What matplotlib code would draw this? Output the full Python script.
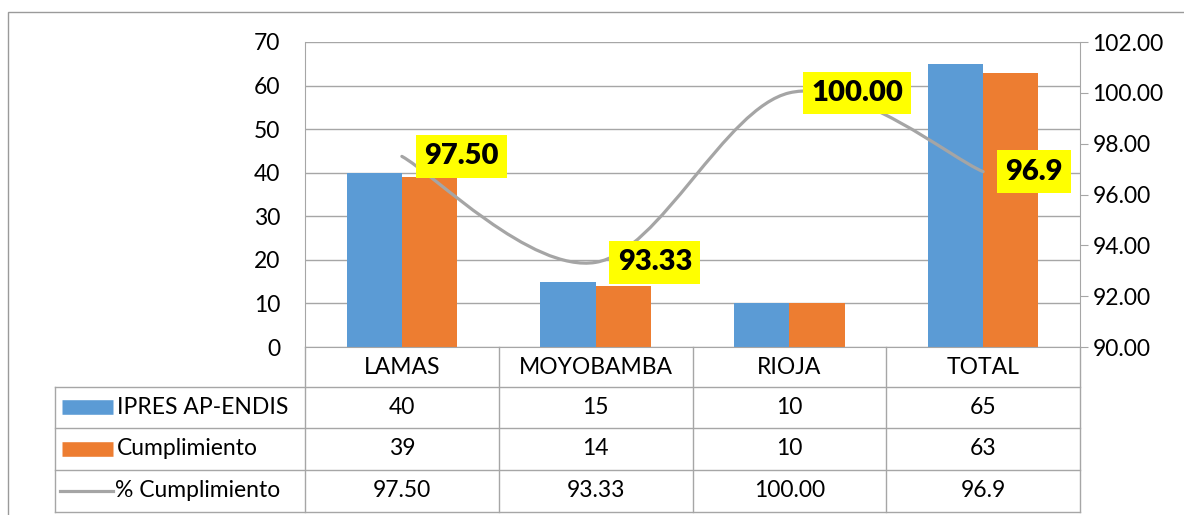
import matplotlib.pyplot as plt
import matplotlib.transforms as mtransforms
from matplotlib.path import Path
from matplotlib.patches import PathPatch, Rectangle
import numpy as np

# datos
categorias = ['LAMAS', 'MOYOBAMBA', 'RIOJA', 'TOTAL']
ipres = [40, 15, 10, 65]
cumplimiento = [39, 14, 10, 63]
porcentaje = [97.50, 93.33, 100.00, 96.9]
etiquetas_pct = ['97.50', '93.33', '100.00', '96.9']
series = ['IPRES AP-ENDIS', 'Cumplimiento', '% Cumplimiento']

plt.rcParams['font.family'] = ['Lato', 'DejaVu Sans']

azul = '#5b9bd5'
naranja = '#ed7d31'
gris = '#a5a5a5'
rejilla = '#a6a6a6'
fs = 16.5

W, H = 1184, 515
fig = plt.figure(figsize=(W / 100, H / 100), dpi=100)

# marco exterior
fig.add_artist(Rectangle((8 / W, -0.05), 1.2, 1 - 12 / H + 0.05, transform=fig.transFigure,
                         fill=False, ec='#9a9a9a', lw=1))

ax = fig.add_axes([305 / W, 1 - 347 / H, 775 / W, 305 / H])
x = np.arange(len(categorias))
ax.bar(x - 0.1425, ipres, 0.285, color=azul, zorder=2)
ax.bar(x + 0.1425, cumplimiento, 0.285, color=naranja, zorder=2)
ax.set_xlim(-0.5, 3.5)
ax.set_ylim(0, 70)
ax.set_yticks(range(0, 71, 10))
ax.yaxis.grid(True, color=rejilla, lw=1)
ax.set_axisbelow(True)
ax.tick_params(axis='y', length=0, labelsize=fs, pad=18)
ax.set_xticks([])
for s in ['top', 'right']:
    ax.spines[s].set_visible(False)
ax.spines['left'].set_color(rejilla)
ax.spines['bottom'].set_color(rejilla)

# eje secundario
ax2 = ax.twinx()
ax2.set_ylim(90, 102)
ax2.set_yticks(np.arange(90, 103, 2))
ax2.set_yticklabels(['%.2f' % v for v in np.arange(90, 103, 2)])
ax2.tick_params(axis='y', direction='out', length=6, color=rejilla, labelsize=fs, pad=3)
for s in ['top', 'left', 'bottom']:
    ax2.spines[s].set_visible(False)
ax2.spines['right'].set_color(rejilla)

# linea suavizada
pts = np.column_stack([x, porcentaje]).astype(float)
n = len(pts)
verts = [pts[0]]
codes = [Path.MOVETO]
for i in range(n - 1):
    p_prev = pts[max(i - 1, 0)]
    p_next2 = pts[min(i + 2, n - 1)]
    c1 = pts[i] + (pts[i + 1] - p_prev) / 6
    c2 = pts[i + 1] - (p_next2 - pts[i]) / 6
    verts += [c1, c2, pts[i + 1]]
    codes += [Path.CURVE4] * 3
ax2.add_patch(PathPatch(Path(verts, codes), fill=False, edgecolor=gris, lw=2.3,
                        capstyle='round', zorder=3))

for i, (p, t) in enumerate(zip(porcentaje, etiquetas_pct)):
    ax2.annotate(t, (x[i], p), xytext=(22, 0), textcoords='offset pixels',
                 ha='left', va='center', fontsize=21, fontweight='heavy', zorder=5,
                 bbox=dict(boxstyle='square,pad=0.28', fc='#ffff00', ec='none'))

# tabla de datos
bt = mtransforms.blended_transform_factory(ax.transData, ax.transAxes)
ft = mtransforms.blended_transform_factory(fig.transFigure, ax.transAxes)
filas = [0, -0.131, -0.266, -0.403, -0.541]
centros = [-0.0656, -0.198, -0.334, -0.472]
izq = 55 / W
der = 1080 / W

for xb in np.arange(-0.5, 4, 1):
    ax.plot([xb, xb], [0, filas[-1]], transform=bt, color=rejilla, lw=1, clip_on=False)
for yb in filas[1:]:
    ax.plot([izq, der], [yb, yb], transform=ft, color=rejilla, lw=1, clip_on=False)
ax.plot([izq, izq], [filas[1], filas[-1]], transform=ft, color=rejilla, lw=1, clip_on=False)

for i, c in enumerate(categorias):
    ax.text(x[i], centros[0], c, transform=bt, ha='center', va='center', fontsize=fs)
valores = [ipres, cumplimiento, etiquetas_pct]
for r, vals in enumerate(valores):
    for i, v in enumerate(vals):
        ax.text(x[i], centros[r + 1], str(v), transform=bt, ha='center', va='center', fontsize=fs)

# claves de la leyenda
for r, (nombre, col) in enumerate(zip(series, [azul, naranja, gris])):
    yc = centros[r + 1]
    if r < 2:
        ax.plot([62 / W, 113 / W], [yc, yc], transform=ft, color=col, lw=10.5,
                solid_capstyle='butt', clip_on=False)
    else:
        ax.plot([60 / W, 113 / W], [yc, yc], transform=ft, color=col, lw=2.3, clip_on=False)
    ax.text(117 / W if r < 2 else 115 / W, yc, nombre, transform=ft, ha='left', va='center', fontsize=fs)

plt.savefig('out.png', dpi=100)
